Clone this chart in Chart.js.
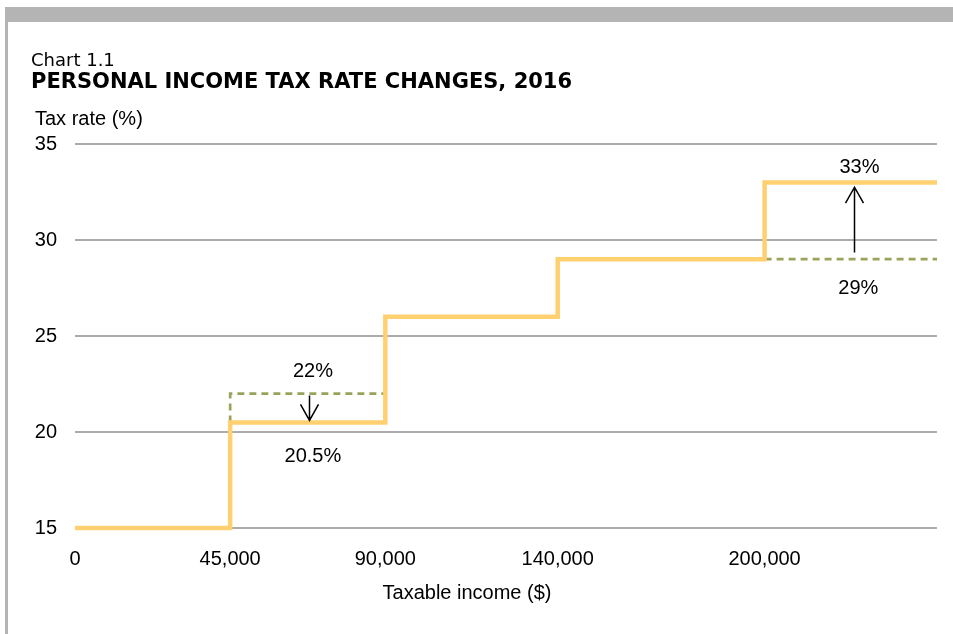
<!DOCTYPE html>
<html>
<head>
<meta charset="utf-8">
<script src="https://cdn.jsdelivr.net/npm/chart.js@4/dist/chart.umd.min.js"></script>
<style>
  body { margin: 0; background: #fff; }
  #wrap { position: relative; width: 953px; height: 634px; overflow: hidden; }
  #chart { position: absolute; left: 0; top: 0; }
  .bar-top { position: absolute; left: 5px; top: 7px; width: 948px; height: 15px; background: #b4b4b4; }
  .bar-left { position: absolute; left: 5px; top: 7px; width: 3px; height: 627px; background: #b4b4b4; }
</style>
</head>
<body>
<div id="wrap">
  <canvas id="chart" width="953" height="634"></canvas>
  <div class="bar-top"></div>
  <div class="bar-left"></div>
</div>
<script>
// chart data
const chartLabel = 'Chart 1.1';
const chartTitle = 'PERSONAL INCOME TAX RATE CHANGES, 2016';
const yTitle = 'Tax rate (%)';
const xTitle = 'Taxable income ($)';

const xTicks = [0, 45000, 90000, 140000, 200000];
const yTicks = [15, 20, 25, 30, 35];

// new rates 2016, each value holds until the next income level
const newIncome = [0, 45000, 90000, 140000, 200000, 250000];
const newRate = [15, 20.5, 26, 29, 33, 33];

// old rates where they differed
const oldIncome = [45000, 45000, 90000, 145000, 200000, 250000];
const oldRate = [20.5, 22, 22, null, 29, 29];

// arrows: old rate -> new rate
const arrowX = [68000, 226000];
const arrowFrom = [21.9, 29.35];
const arrowTo = [20.6, 32.75];

// notes
const noteText = ['22%', '20.5%', '33%', '29%'];
const noteX = [69000, 69000, 227500, 227200];
const noteY = [23.15, 18.7, 33.8, 27.5];

var ctx = document.getElementById('chart').getContext('2d');

const toPoints = (xs, ys) => xs.map((x, i) => ({ x: x, y: ys[i] }));

var extras = {
    id: 'extras',
    afterDatasetsDraw(chart) {
        const c = chart.ctx;
        const xs = chart.scales.x, ys = chart.scales.y;
        c.save();
        c.strokeStyle = '#000';
        c.lineWidth = 1.5;
        arrowX.forEach((ax, i) => {
            const px = Math.round(xs.getPixelForValue(ax)) + 0.5;
            const y0 = ys.getPixelForValue(arrowFrom[i]);
            const y1 = ys.getPixelForValue(arrowTo[i]);
            const dir = y1 > y0 ? -1 : 1;
            c.beginPath();
            c.moveTo(px, y0);
            c.lineTo(px, y1);
            c.moveTo(px - 9, y1 + dir * 16);
            c.lineTo(px, y1);
            c.lineTo(px + 9, y1 + dir * 16);
            c.stroke();
        });
        c.fillStyle = '#000';
        c.font = '20px "Liberation Sans", Arial, sans-serif';
        c.textAlign = 'center';
        c.textBaseline = 'middle';
        noteText.forEach((t, i) => {
            c.fillText(t, xs.getPixelForValue(noteX[i]), ys.getPixelForValue(noteY[i]));
        });
        c.restore();
    },
    afterDraw(chart) {
        const c = chart.ctx;
        c.save();
        c.fillStyle = '#000';
        c.textBaseline = 'alphabetic';
        c.textAlign = 'left';
        c.font = '18px "DejaVu Sans", sans-serif';
        c.fillText(chartLabel, 31, 66);
        c.font = 'bold 21px "DejaVu Sans", sans-serif';
        c.fillText(chartTitle, 31, 88);
        c.font = '20px "Liberation Sans", Arial, sans-serif';
        c.textBaseline = 'middle';
        c.fillText(yTitle, 35, 119);
        c.textAlign = 'center';
        c.fillText(xTitle, 467, 593);
        c.restore();
    }
};

var chart = new Chart(ctx, {
    type: 'line',
    data: {
        datasets: [
            {
                label: 'New rate',
                data: toPoints(newIncome, newRate),
                stepped: 'before',
                borderColor: '#FFD070',
                borderWidth: 4.5,
                pointRadius: 0,
                clip: 6,
                order: 0
            },
            {
                label: 'Old rate',
                data: toPoints(oldIncome, oldRate),
                borderColor: '#9BA35A',
                borderWidth: 2.7,
                borderDash: [7, 5],
                pointRadius: 0,
                spanGaps: false,
                clip: 6,
                order: 1
            }
        ]
    },
    options: {
        responsive: false,
        animation: false,
        layout: { padding: { top: 144, right: 16, bottom: 46, left: 0 } },
        plugins: {
            legend: { display: false },
            tooltip: { enabled: false }
        },
        scales: {
            x: {
                type: 'linear',
                min: 0,
                max: 250000,
                afterBuildTicks: s => { s.ticks = xTicks.map(v => ({ value: v })); },
                afterFit: s => { s.height = 60; },
                grid: { display: false },
                border: { display: false },
                ticks: {
                    padding: 11,
                    color: '#000',
                    maxRotation: 0,
                    autoSkip: false,
                    font: { family: '"Liberation Sans", Arial, sans-serif', size: 20 },
                    callback: v => v.toLocaleString('en-US')
                }
            },
            y: {
                min: 15,
                max: 35,
                afterBuildTicks: s => { s.ticks = yTicks.map(v => ({ value: v })); },
                afterFit: s => { s.width = 75; },
                grid: { color: '#ababab', lineWidth: 2, drawTicks: false },
                border: { display: false },
                ticks: {
                    padding: 18,
                    color: '#000',
                    font: { family: '"Liberation Sans", Arial, sans-serif', size: 20 }
                }
            }
        }
    },
    plugins: [extras]
});
</script>
</body>
</html>
